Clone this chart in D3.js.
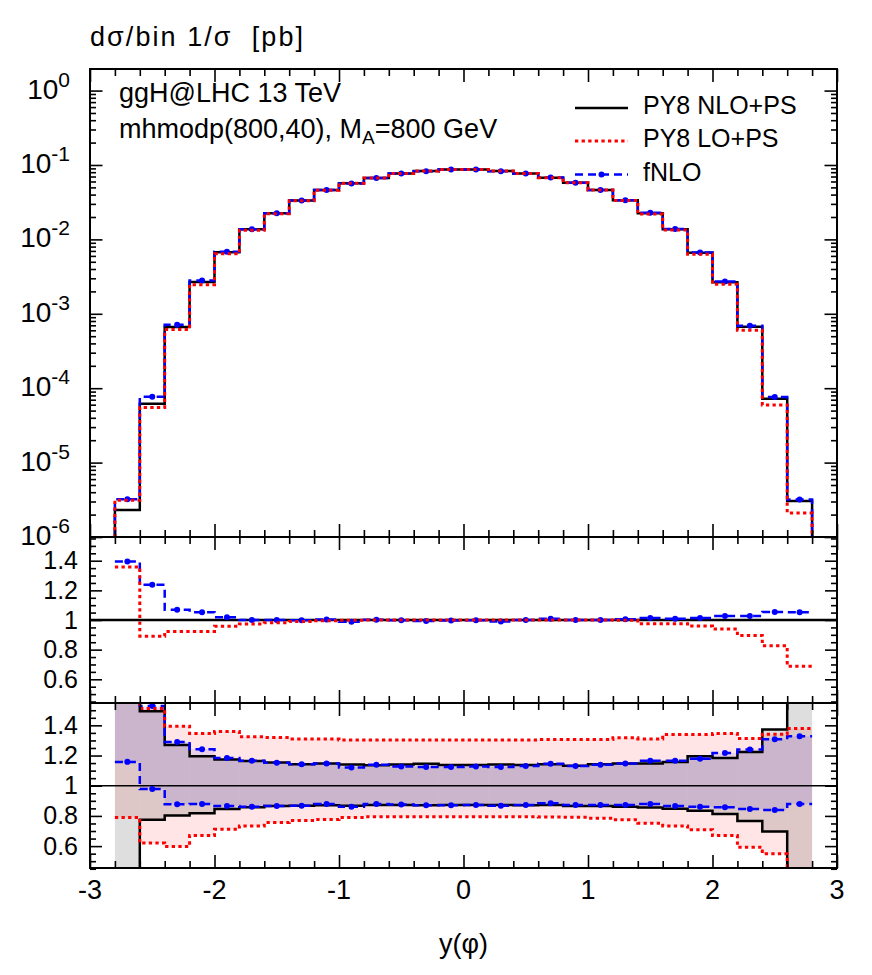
<!DOCTYPE html>
<html>
<head>
<meta charset="utf-8">
<script src="https://cdn.jsdelivr.net/npm/d3@7"></script>
<style>
  body { margin: 0; background: #fff; }
  text { font-family: "Liberation Sans", Arial, Helvetica, sans-serif; fill: #000; }
</style>
</head>
<body>
<svg id="chart" width="872" height="975"></svg>
<script>
// bins in y(phi)
const binEdges = [-2.8, -2.6, -2.4, -2.2, -2.0, -1.8, -1.6, -1.4, -1.2, -1.0, -0.8, -0.6, -0.4, -0.2, 0,
  0.2, 0.4, 0.6, 0.8, 1.0, 1.2, 1.4, 1.6, 1.8, 2.0, 2.2, 2.4, 2.6, 2.8];

// main panel: dsigma/bin 1/sigma
const nloPS = [2.3e-6, 6.2e-5, 6.65e-4, 2.67e-3, 6.7e-3, 1.37e-2, 2.25e-2, 3.33e-2, 4.6e-2, 5.7e-2,
  6.7e-2, 7.7e-2, 8.3e-2, 8.7e-2, 8.7e-2, 8.3e-2, 7.7e-2, 6.75e-2, 5.75e-2, 4.6e-2,
  3.35e-2, 2.25e-2, 1.37e-2, 6.6e-3, 2.65e-3, 6.7e-4, 7.2e-5, 3.05e-6];
const loPS = [3.12e-6, 5.52e-5, 6.14e-4, 2.46e-3, 6.41e-3, 1.33e-2, 2.21e-2, 3.3e-2, 4.58e-2, 5.69e-2,
  6.7e-2, 7.7e-2, 8.3e-2, 8.7e-2, 8.7e-2, 8.3e-2, 7.7e-2, 6.75e-2, 5.75e-2, 4.6e-2,
  3.34e-2, 2.19e-2, 1.34e-2, 6.33e-3, 2.49e-3, 6.0e-4, 5.95e-5, 2.1e-6];
const fNLO = [3.21e-6, 7.67e-5, 7.12e-4, 2.81e-3, 6.82e-3, 1.37e-2, 2.25e-2, 3.32e-2, 4.62e-2, 5.63e-2,
  6.71e-2, 7.68e-2, 8.24e-2, 8.67e-2, 8.68e-2, 8.22e-2, 7.7e-2, 6.8e-2, 5.75e-2, 4.6e-2,
  3.37e-2, 2.28e-2, 1.38e-2, 6.69e-3, 2.72e-3, 6.88e-4, 7.59e-5, 3.2e-6];

// ratio panel 1 (to PY8 NLO+PS)
const ratioFNLO = [1.395, 1.237, 1.07, 1.052, 1.018, 1.0, 1.0, 0.998, 1.004, 0.988,
  1.002, 0.998, 0.993, 0.996, 0.998, 0.99, 1.0, 1.008, 1.0, 1.0,
  1.005, 1.014, 1.009, 1.014, 1.027, 1.027, 1.054, 1.052];
const ratioLO = [1.357, 0.891, 0.923, 0.923, 0.957, 0.973, 0.982, 0.99, 0.995, 0.998,
  1.0, 1.0, 1.0, 1.0, 1.0, 1.0, 1.0, 1.0, 1.0, 1.0,
  0.998, 0.975, 0.975, 0.959, 0.939, 0.896, 0.826, 0.688];

// ratio panel 2: uncertainty bands (values outside the frame are off-scale)
const bandNLOUp = [2.0, 1.493, 1.269, 1.196, 1.174, 1.163, 1.154, 1.143, 1.148, 1.14,
  1.136, 1.14, 1.145, 1.138, 1.138, 1.14, 1.138, 1.142, 1.132, 1.143,
  1.148, 1.148, 1.158, 1.196, 1.183, 1.224, 1.372, 2.0];
const bandNLODown = [0.2, 0.774, 0.802, 0.818, 0.846, 0.857, 0.866, 0.868, 0.87, 0.868,
  0.872, 0.872, 0.87, 0.872, 0.872, 0.872, 0.87, 0.872, 0.866, 0.866,
  0.861, 0.855, 0.848, 0.835, 0.813, 0.767, 0.696, 0.2];
const bandLOUp = [2.0, 1.511, 1.394, 1.346, 1.359, 1.324, 1.319, 1.31, 1.31, 1.303,
  1.303, 1.303, 1.303, 1.303, 1.303, 1.303, 1.303, 1.306, 1.306, 1.306,
  1.317, 1.31, 1.339, 1.339, 1.346, 1.313, 1.341, 1.379];
const bandLODown = [0.789, 0.62, 0.597, 0.67, 0.712, 0.734, 0.756, 0.769, 0.776, 0.79,
  0.795, 0.795, 0.795, 0.795, 0.795, 0.795, 0.795, 0.793, 0.791, 0.785,
  0.774, 0.752, 0.734, 0.708, 0.67, 0.593, 0.549, 0.2];
const bandFNLOUp = [2.0, 1.528, 1.29, 1.242, 1.183, 1.165, 1.152, 1.143, 1.148, 1.121,
  1.139, 1.128, 1.124, 1.124, 1.128, 1.124, 1.13, 1.145, 1.13, 1.139,
  1.148, 1.165, 1.165, 1.178, 1.216, 1.24, 1.308, 1.328];
const bandFNLODown = [1.158, 0.978, 0.877, 0.879, 0.866, 0.861, 0.866, 0.868, 0.879, 0.861,
  0.879, 0.875, 0.87, 0.87, 0.872, 0.868, 0.872, 0.884, 0.873, 0.873,
  0.873, 0.879, 0.866, 0.861, 0.857, 0.846, 0.84, 0.879];

// ticks
const xTickValues = [-3, -2, -1, 0, 1, 2, 3];
const xTickLabels = ["-3", "-2", "-1", "0", "1", "2", "3"];
const logExponents = [0, -1, -2, -3, -4, -5, -6];
const ratioTickValues = [0.6, 0.8, 1, 1.2, 1.4];
const ratioTickLabels = ["0.6", "0.8", "1", "1.2", "1.4"];

const svg = d3.select("#chart");
const left = 90, right = 837;
const x = d3.scaleLinear().domain([-3, 3]).range([left, right]);
const yMain = d3.scaleLog().domain([1e-6, 1.95]).range([537, 69]);
const yR1 = d3.scaleLinear().domain([0.44, 1.56]).range([703, 537]);
const yR2 = d3.scaleLinear().domain([0.455, 1.548]).range([868, 703]);

const xMinor = d3.range(-29, 30).map(i => i / 10).filter(v => Math.round(v * 10) % 2 === 0 && Math.round(v * 10) % 10 !== 0);
const logMajor = logExponents.map(e => Math.pow(10, e));
const logMinor = [];
logExponents.slice(1).forEach(e => { for (let m = 2; m <= 9; m++) logMinor.push(m * Math.pow(10, e)); });
const ratioMinor = d3.range(9, 32).map(i => i * 0.05).filter(v => !ratioTickValues.some(t => Math.abs(t - v) < 1e-6));

const centers = binEdges.slice(0, -1).map((e, i) => (e + binEdges[i + 1]) / 2);

function stepPts(vals, drop) {
  const pts = [];
  if (drop !== undefined) pts.push([binEdges[0], drop]);
  vals.forEach((v, i) => { pts.push([binEdges[i], v]); pts.push([binEdges[i + 1], v]); });
  if (drop !== undefined) pts.push([binEdges[binEdges.length - 1], drop]);
  return pts;
}

function clipFor(id, y0, y1) {
  svg.append("clipPath").attr("id", id).append("rect")
    .attr("x", left).attr("y", y0).attr("width", right - left).attr("height", y1 - y0);
  return svg.append("g").attr("clip-path", `url(#${id})`);
}

const styles = {
  nlo: { stroke: "#000", width: 2.5, dash: null },
  lo: { stroke: "#ff0000", width: 3, dash: "3.3,3.3" },
  fnlo: { stroke: "#0000ff", width: 2.5, dash: "8,5" }
};

function stepLine(g, yScale, vals, st, drop) {
  const line = d3.line().x(d => x(d[0])).y(d => yScale(d[1]));
  g.append("path").datum(stepPts(vals, drop))
    .attr("d", line).attr("fill", "none")
    .attr("stroke", st.stroke).attr("stroke-width", st.width)
    .attr("stroke-dasharray", st.dash);
}

function dots(g, yScale, vals) {
  g.selectAll(null).data(vals).join("circle")
    .attr("cx", (d, i) => x(centers[i])).attr("cy", d => yScale(d))
    .attr("r", 3).attr("fill", "#0000ff");
}

// ---- main panel ----
const gMain = clipFor("clipMain", 69, 537);
stepLine(gMain, yMain, nloPS, styles.nlo, 1e-6);
stepLine(gMain, yMain, fNLO, styles.fnlo, 1e-6);
dots(gMain, yMain, fNLO);
stepLine(gMain, yMain, loPS, styles.lo, 1e-6);

// ---- ratio panel 1 ----
const gR1 = clipFor("clipR1", 537, 703);
gR1.append("line").attr("x1", left).attr("x2", right)
  .attr("y1", yR1(1)).attr("y2", yR1(1)).attr("stroke", "#000").attr("stroke-width", 2.5);
stepLine(gR1, yR1, ratioFNLO, styles.fnlo);
dots(gR1, yR1, ratioFNLO);
stepLine(gR1, yR1, ratioLO, styles.lo);

// ---- ratio panel 2 ----
const gR2 = clipFor("clipR2", 703, 868);
function band(up, down, color, op) {
  gR2.append("g").selectAll("rect").data(up).join("rect")
    .attr("x", (d, i) => x(binEdges[i]))
    .attr("width", (d, i) => x(binEdges[i + 1]) - x(binEdges[i]))
    .attr("y", d => yR2(d))
    .attr("height", (d, i) => yR2(down[i]) - yR2(d))
    .attr("fill", color).attr("fill-opacity", op);
}
band(bandLOUp, bandLODown, "#ff0000", 0.1);
band(bandNLOUp, bandNLODown, "#000000", 0.13);
band(bandFNLOUp, bandFNLODown, "#0000ff", 0.09);
gR2.append("line").attr("x1", left).attr("x2", right)
  .attr("y1", yR2(1)).attr("y2", yR2(1)).attr("stroke", "#000").attr("stroke-width", 1.3);
stepLine(gR2, yR2, bandNLOUp, styles.nlo);
stepLine(gR2, yR2, bandNLODown, styles.nlo);
stepLine(gR2, yR2, bandFNLOUp, styles.fnlo);
stepLine(gR2, yR2, bandFNLODown, styles.fnlo);
dots(gR2, yR2, bandFNLOUp);
dots(gR2, yR2, bandFNLODown);
stepLine(gR2, yR2, bandLOUp, styles.lo);
stepLine(gR2, yR2, bandLODown, styles.lo);

// ---- frames and ticks ----
function frame(yScale, yMaj, yMin, top, bottom, majLen, minLen) {
  const g = svg.append("g");
  const add = (axis, tx, ty) => g.append("g").attr("transform", `translate(${tx},${ty})`)
    .call(axis).call(s => s.select(".domain").remove())
    .call(s => s.selectAll("line").attr("stroke-width", 1.6));
  add(d3.axisLeft(yScale).tickValues(yMaj).tickSize(-majLen).tickFormat(""), left, 0);
  add(d3.axisLeft(yScale).tickValues(yMin).tickSize(-minLen).tickFormat(""), left, 0);
  add(d3.axisRight(yScale).tickValues(yMaj).tickSize(-majLen).tickFormat(""), right, 0);
  add(d3.axisRight(yScale).tickValues(yMin).tickSize(-minLen).tickFormat(""), right, 0);
  add(d3.axisTop(x).tickValues(xTickValues).tickSize(-13).tickFormat(""), 0, top);
  add(d3.axisTop(x).tickValues(xMinor).tickSize(-7).tickFormat(""), 0, top);
  add(d3.axisBottom(x).tickValues(xTickValues).tickSize(-13).tickFormat(""), 0, bottom);
  add(d3.axisBottom(x).tickValues(xMinor).tickSize(-7).tickFormat(""), 0, bottom);
  g.append("rect").attr("x", left).attr("y", top).attr("width", right - left)
    .attr("height", bottom - top).attr("fill", "none").attr("stroke", "#000").attr("stroke-width", 2);
}
frame(yMain, logMajor, logMinor, 69, 537, 12.5, 6);
frame(yR1, ratioTickValues, ratioMinor, 537, 703, 12, 6);
frame(yR2, ratioTickValues, ratioMinor, 703, 868, 12, 6);

// ---- labels ----
svg.append("g").selectAll("text").data(logExponents).join("text")
  .attr("x", 70).attr("y", d => yMain(Math.pow(10, d)) + 8)
  .attr("text-anchor", "end").attr("font-size", 28)
  .each(function (d) {
    const t = d3.select(this);
    t.append("tspan").text("10");
    t.append("tspan").attr("dy", -12).attr("font-size", 21).text(String(d));
  });

[yR1, yR2].forEach(ys => {
  svg.append("g").selectAll("text").data(ratioTickValues).join("text")
    .attr("x", 78).attr("y", d => ys(d) + 8.5)
    .attr("text-anchor", "end").attr("font-size", 25)
    .text((d, i) => ratioTickLabels[i]);
});

svg.append("g").selectAll("text").data(xTickValues).join("text")
  .attr("x", d => x(d)).attr("y", 899)
  .attr("text-anchor", "middle").attr("font-size", 27)
  .text((d, i) => xTickLabels[i]);

svg.append("text").attr("x", x(0)).attr("y", 953).attr("text-anchor", "middle")
  .attr("font-size", 27).text("y(\u03C6)");

svg.append("text").attr("x", 90).attr("y", 46).attr("font-size", 27)
  .attr("textLength", 213).attr("lengthAdjust", "spacing")
  .style("white-space", "pre")
  .text("d\u03C3/bin 1/\u03C3  [pb]");

svg.append("text").attr("x", 119).attr("y", 102).attr("font-size", 27).text("ggH@LHC 13 TeV");
const t2 = svg.append("text").attr("x", 119).attr("y", 138).attr("font-size", 27);
t2.append("tspan").text("mhmodp(800,40), M");
t2.append("tspan").attr("dy", 6).attr("font-size", 19).text("A");
t2.append("tspan").attr("dy", -6).text("=800 GeV");

// ---- legend ----
const legendItems = [
  { label: "PY8 NLO+PS", st: styles.nlo, y: 108, dot: false },
  { label: "PY8 LO+PS", st: styles.lo, y: 141, dot: false },
  { label: "fNLO", st: styles.fnlo, y: 174.5, dot: true }
];
const gLeg = svg.append("g");
legendItems.forEach(it => {
  gLeg.append("line").attr("x1", 575).attr("x2", 628).attr("y1", it.y).attr("y2", it.y)
    .attr("stroke", it.st.stroke).attr("stroke-width", it.st.width).attr("stroke-dasharray", it.st.dash);
  if (it.dot) gLeg.append("circle").attr("cx", 601.5).attr("cy", it.y).attr("r", 3).attr("fill", "#0000ff");
  gLeg.append("text").attr("x", 643).attr("y", it.y + 6).attr("font-size", 25).text(it.label);
});
</script>
</body>
</html>
